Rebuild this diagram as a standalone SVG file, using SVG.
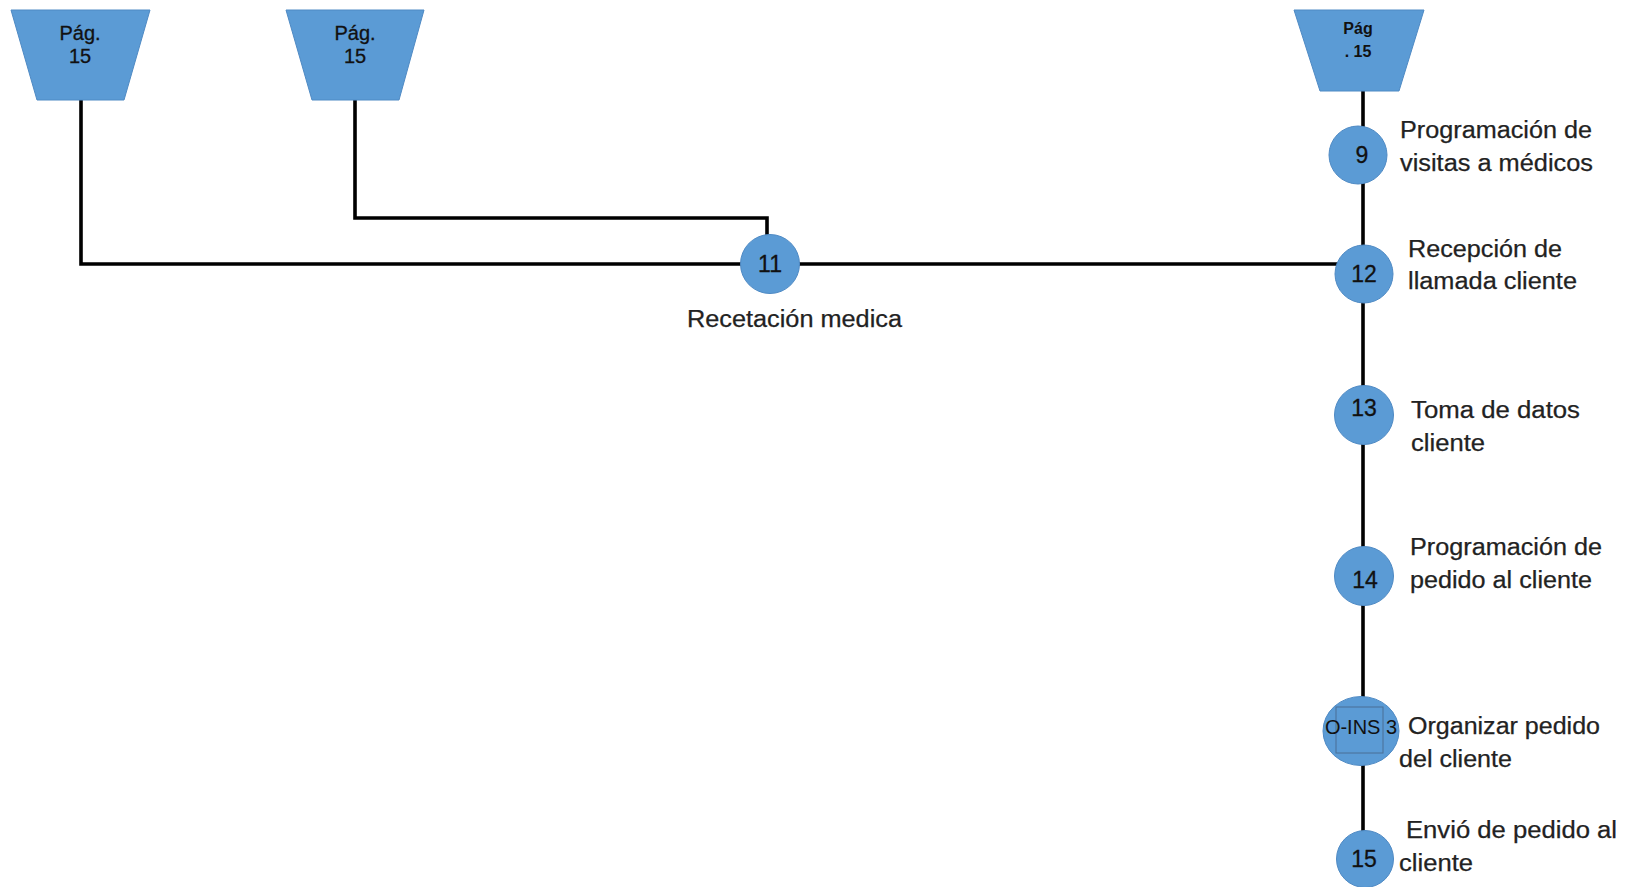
<svg xmlns="http://www.w3.org/2000/svg" width="1636" height="887" viewBox="0 0 1636 887">
  <style>
    .bg { fill: #ffffff; }
    .shape { fill: #5b9bd5; stroke: #4f8ac4; stroke-width: 1; }
    .wire { fill: none; stroke: #000000; stroke-width: 3.6; stroke-linejoin: miter; }
    .inner { fill: none; stroke: #4a6f95; stroke-width: 1; }
    .num { font-family: "Liberation Sans", Arial, sans-serif; font-size: 23px; fill: #111111; text-anchor: middle; stroke: #111111; stroke-width: 0.3; }
    .pg { font-family: "Liberation Sans", Arial, sans-serif; font-size: 20px; fill: #111111; text-anchor: middle; stroke: #111111; stroke-width: 0.3; }
    .pgb { font-family: "Liberation Sans", Arial, sans-serif; font-size: 16px; font-weight: bold; fill: #111111; text-anchor: middle; }
    .lbl { font-family: "Liberation Sans", Arial, sans-serif; font-size: 23px; fill: #222222; stroke: #222222; stroke-width: 0.25; }
    .code { font-family: "Liberation Sans", Arial, sans-serif; font-size: 20px; fill: #111111; text-anchor: middle; }
  </style>

  <rect class="bg" x="0" y="0" width="1636" height="887"/>

  <!-- connectors -->
  <g id="connectors">
    <polyline class="wire" points="81,100 81,264 770,264"/>
    <polyline class="wire" points="355,100 355,218 767,218 767,236"/>
    <line class="wire" x1="770" y1="264" x2="1364" y2="264"/>
    <line class="wire" x1="1363" y1="91" x2="1363" y2="832"/>
  </g>

  <!-- off-page connectors -->
  <g id="page-ref-1">
    <polygon class="shape" points="11,10 150,10 124,100 37,100"/>
    <text class="pg" x="80" y="40">Pág.</text>
    <text class="pg" x="80" y="63">15</text>
  </g>
  <g id="page-ref-2">
    <polygon class="shape" points="286,10 424,10 399,100 312,100"/>
    <text class="pg" x="355" y="40">Pág.</text>
    <text class="pg" x="355" y="63">15</text>
  </g>
  <g id="page-ref-3">
    <polygon class="shape" points="1294,10 1424,10 1399,91 1320,91"/>
    <text class="pgb" x="1358" y="34">Pág</text>
    <text class="pgb" x="1358" y="57">. 15</text>
  </g>

  <!-- operations -->
  <g id="op-9">
    <circle class="shape" cx="1358" cy="155" r="29"/>
    <text class="num" x="1362" y="163">9</text>
    <text class="lbl" x="1400" y="138" textLength="192" lengthAdjust="spacingAndGlyphs">Programación de</text>
    <text class="lbl" x="1400" y="171" textLength="193" lengthAdjust="spacingAndGlyphs">visitas a médicos</text>
  </g>

  <g id="op-11">
    <circle class="shape" cx="770" cy="264" r="29.5"/>
    <text class="num" x="770" y="272">11</text>
    <text class="lbl" x="687" y="327" textLength="215" lengthAdjust="spacingAndGlyphs">Recetación medica</text>
  </g>

  <g id="op-12">
    <circle class="shape" cx="1364" cy="274" r="29"/>
    <text class="num" x="1364" y="282">12</text>
    <text class="lbl" x="1408" y="257" textLength="154" lengthAdjust="spacingAndGlyphs">Recepción de</text>
    <text class="lbl" x="1408" y="289" textLength="169" lengthAdjust="spacingAndGlyphs">llamada cliente</text>
  </g>

  <g id="op-13">
    <circle class="shape" cx="1364" cy="415" r="29.5"/>
    <text class="num" x="1364" y="416">13</text>
    <text class="lbl" x="1411" y="418" textLength="169" lengthAdjust="spacingAndGlyphs">Toma de datos</text>
    <text class="lbl" x="1411" y="451" textLength="74" lengthAdjust="spacingAndGlyphs">cliente</text>
  </g>

  <g id="op-14">
    <circle class="shape" cx="1364" cy="576" r="29.5"/>
    <text class="num" x="1365" y="588">14</text>
    <text class="lbl" x="1410" y="555" textLength="192" lengthAdjust="spacingAndGlyphs">Programación de</text>
    <text class="lbl" x="1410" y="588" textLength="182" lengthAdjust="spacingAndGlyphs">pedido al cliente</text>
  </g>

  <g id="op-ins-3">
    <ellipse class="shape" cx="1361" cy="731" rx="38" ry="34.5"/>
    <rect class="inner" x="1336" y="707" width="47" height="46"/>
    <text class="code" x="1361" y="734">O-INS 3</text>
    <text class="lbl" x="1408" y="734" textLength="192" lengthAdjust="spacingAndGlyphs">Organizar pedido</text>
    <text class="lbl" x="1399" y="767" textLength="113" lengthAdjust="spacingAndGlyphs">del cliente</text>
  </g>

  <g id="op-15">
    <circle class="shape" cx="1365" cy="859" r="28.5"/>
    <text class="num" x="1364" y="867">15</text>
    <text class="lbl" x="1406" y="838" textLength="211" lengthAdjust="spacingAndGlyphs">Envió de pedido al</text>
    <text class="lbl" x="1399" y="871" textLength="74" lengthAdjust="spacingAndGlyphs">cliente</text>
  </g>
</svg>
